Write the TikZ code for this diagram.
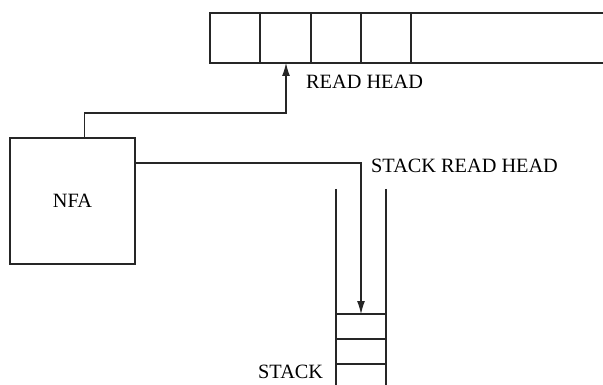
\documentclass[tikz,border=0pt]{standalone}
\usepackage{fontspec}
\setmainfont{Liberation Serif}
\usetikzlibrary{arrows.meta}
\begin{document}
\begin{tikzpicture}[x=1pt,y=-1pt,
  ln/.style={line width=1.1pt, draw=black!85},
  lbl/.style={font=\fontsize{20.3}{23}\selectfont, inner sep=0pt, anchor=base west},
  tip/.style={-{Latex[length=13pt,width=8pt]}}]
\useasboundingbox (0,0) rectangle (603,385);
% tape
\draw[ln] (603,13) -- (210,13) -- (210,63) -- (603,63);
\foreach \x in {260,311,361,411} \draw[ln] (\x,13) -- (\x,63);
\coordinate (cell) at (286,63);
% NFA
\node[ln, draw, minimum width=125pt, minimum height=126pt, inner sep=0pt,
  font=\fontsize{20.3}{23}\selectfont] (nfa) at (72.5,201) {NFA};
% stack
\draw[ln] (336,189) -- (336,385);
\draw[ln] (386,189) -- (386,385);
\foreach \y in {314,339,364} \draw[ln] (336,\y) -- (386,\y);
\coordinate (stop) at (361,314);
% connectors
\draw[ln, tip] (nfa.north west) ++(75,0) |- (286,113) -- (cell);
\draw[ln, tip] (nfa.east |- 0,163) -| (stop);
% labels
\node[lbl] (rh) at (306,89) {READ HEAD};
\node[lbl] (srh) at (371,173) {STACK READ HEAD};
\node[lbl] (st) at (258,378) {STACK};
\end{tikzpicture}
\end{document}
